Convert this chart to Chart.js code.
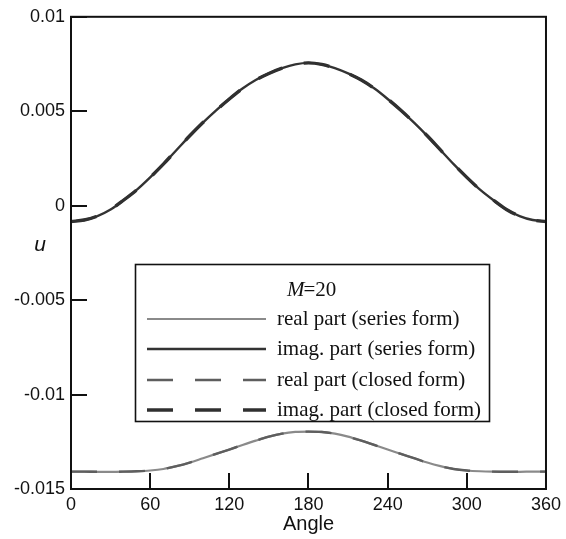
<!DOCTYPE html>
<html>
<head>
<meta charset="utf-8">
<script src="https://cdn.jsdelivr.net/npm/chart.js@4"></script>
<style>
  html, body { margin: 0; padding: 0; background: #fff; }
  #wrap { width: 566px; height: 539px; position: relative; }
</style>
</head>
<body>
<div id="wrap"><canvas id="c" width="566" height="539"></canvas></div>
<script>
// ---- data ----
const angles = [0,10,20,30,40,50,60,70,80,90,100,110,120,130,140,150,160,170,180,
                190,200,210,220,230,240,250,260,270,280,290,300,310,320,330,340,350,360];
const realSeries = [-0.01408,-0.01408,-0.01409,-0.01409,-0.01408,-0.01406,-0.01402,-0.01394,-0.01379,-0.01360,
                    -0.01337,-0.01314,-0.01291,-0.01267,-0.01244,-0.01223,-0.01207,-0.01198,-0.01196,
                    -0.01198,-0.01207,-0.01223,-0.01244,-0.01267,-0.01291,-0.01314,-0.01337,-0.01360,-0.01379,
                    -0.01394,-0.01402,-0.01406,-0.01408,-0.01409,-0.01409,-0.01408,-0.01408];
const imagSeries = [-0.00084,-0.00076,-0.00055,-0.00020,0.00030,0.00085,0.00150,0.00220,0.00295,0.00370,
                    0.00440,0.00505,0.00565,0.00620,0.00665,0.00700,0.00728,0.00748,0.00756,
                    0.00748,0.00728,0.00700,0.00665,0.00620,0.00565,0.00505,0.00440,0.00370,0.00295,
                    0.00220,0.00150,0.00085,0.00030,-0.00020,-0.00055,-0.00076,-0.00084];
const realClosed = realSeries.slice();
const imagClosed = imagSeries.slice();
const xTicks = [0,60,120,180,240,300,360];
const yTicks = [-0.015,-0.01,-0.005,0,0.005,0.01];
const yTickLabels = ['-0.015','-0.01','-0.005','0','0.005','0.01'];
const legendTitle = 'M=20';
const seriesNames = ['real part (series form)','imag. part (series form)','real part (closed form)','imag. part (closed form)'];

const pts = arr => angles.map((a,i)=>({x:a, y:arr[i]}));
const SANS = '"Liberation Sans", Arial, sans-serif';
const SERIF = '"Liberation Serif", "Times New Roman", serif';

const styles = [
  {color:'#8a8a8a', width:2.2, dash:[]},
  {color:'#333333', width:2.4, dash:[]},
  {color:'#5e5e5e', width:2.4, dash:[26,22]},
  {color:'#303030', width:3.4, dash:[26,22]}
];
const seriesData = [realSeries, imagSeries, realClosed, imagClosed];

const datasets = seriesData.map((arr,i)=>({
  label: seriesNames[i],
  data: pts(arr),
  borderColor: styles[i].color,
  borderWidth: styles[i].width,
  borderDash: styles[i].dash,
  pointRadius: 0,
  fill: false,
  cubicInterpolationMode: 'monotone',
  order: i < 2 ? 2 : 1
}));

const framePlugin = {
  id: 'frame',
  afterDraw(chart) {
    const ctx = chart.ctx, a = chart.chartArea;
    const xs = chart.scales.x, ys = chart.scales.y;
    ctx.save();
    ctx.strokeStyle = '#111';
    ctx.lineWidth = 2;
    ctx.setLineDash([]);
    ctx.strokeRect(a.left, a.top, a.right - a.left, a.bottom - a.top);
    const tl = 16;
    ctx.beginPath();
    yTicks.forEach(v => {
      const y = Math.round(ys.getPixelForValue(v));
      ctx.moveTo(a.left, y); ctx.lineTo(a.left + tl, y);
    });
    xTicks.forEach(v => {
      const x = Math.round(xs.getPixelForValue(v));
      ctx.moveTo(x, a.bottom); ctx.lineTo(x, a.bottom - tl);
    });
    ctx.stroke();

    // y-axis title (unrotated)
    ctx.fillStyle = '#111';
    ctx.font = 'italic 21px ' + SANS;
    ctx.textAlign = 'center';
    ctx.textBaseline = 'middle';
    ctx.fillText('u', 40, (ys.getPixelForValue(-0.0021)));

    // legend box
    const L = 135, T = 264, R = 489, B = 421;
    ctx.fillStyle = '#fff';
    ctx.fillRect(L, T, R - L, B - T);
    ctx.lineWidth = 1.6;
    ctx.strokeStyle = '#111';
    ctx.strokeRect(L + 0.5, T + 0.5, R - L, B - T);
    // title M=20 with italic M
    ctx.textAlign = 'left';
    ctx.fillStyle = '#111';
    ctx.font = 'italic 21px ' + SERIF;
    const mW = ctx.measureText('M').width;
    ctx.fillText('M', 287, 290);
    ctx.font = '21px ' + SERIF;
    ctx.fillText(legendTitle.slice(1), 287 + mW - 1, 290);
    const rows = [319, 349, 380, 410];
    chart.data.datasets.forEach((ds, i) => {
      const y = rows[i];
      ctx.save();
      ctx.strokeStyle = ds.borderColor;
      ctx.lineWidth = ds.borderWidth;
      ctx.setLineDash(ds.borderDash);
      ctx.beginPath();
      ctx.moveTo(147, y); ctx.lineTo(266, y);
      ctx.stroke();
      ctx.restore();
      ctx.fillStyle = '#111';
      ctx.font = '21px ' + SERIF;
      ctx.fillText(ds.label, 277, y);
    });
    ctx.restore();
  }
};

new Chart(document.getElementById('c'), {
  type: 'line',
  data: { datasets },
  options: {
    responsive: false,
    animation: false,
    events: [],
    layout: { padding: { top: 15, right: 20, left: 0, bottom: 0 } },
    plugins: { legend: { display: false }, tooltip: { enabled: false } },
    scales: {
      x: {
        type: 'linear', min: 0, max: 360,
        afterBuildTicks: s => { s.ticks = xTicks.map(v => ({value: v})); },
        afterFit: s => { s.height = 50; },
        grid: { display: false, drawTicks: false },
        border: { display: false },
        ticks: { color: '#111', font: { family: SANS, size: 18 }, padding: 5, maxRotation: 0,
                 callback: v => String(v) },
        title: { display: true, text: 'Angle', color: '#111', font: { family: SANS, size: 20 },
                 padding: { top: 0, bottom: 3 } }
      },
      y: {
        type: 'linear', min: -0.015, max: 0.01,
        afterBuildTicks: s => { s.ticks = yTicks.map(v => ({value: v})); },
        afterFit: s => { s.width = 71; },
        grid: { display: false, drawTicks: false },
        border: { display: false },
        ticks: { color: '#111', font: { family: SANS, size: 18 }, padding: 6,
                 callback: (v, i) => yTickLabels[i] }
      }
    }
  },
  plugins: [framePlugin]
});
</script>
</body>
</html>
